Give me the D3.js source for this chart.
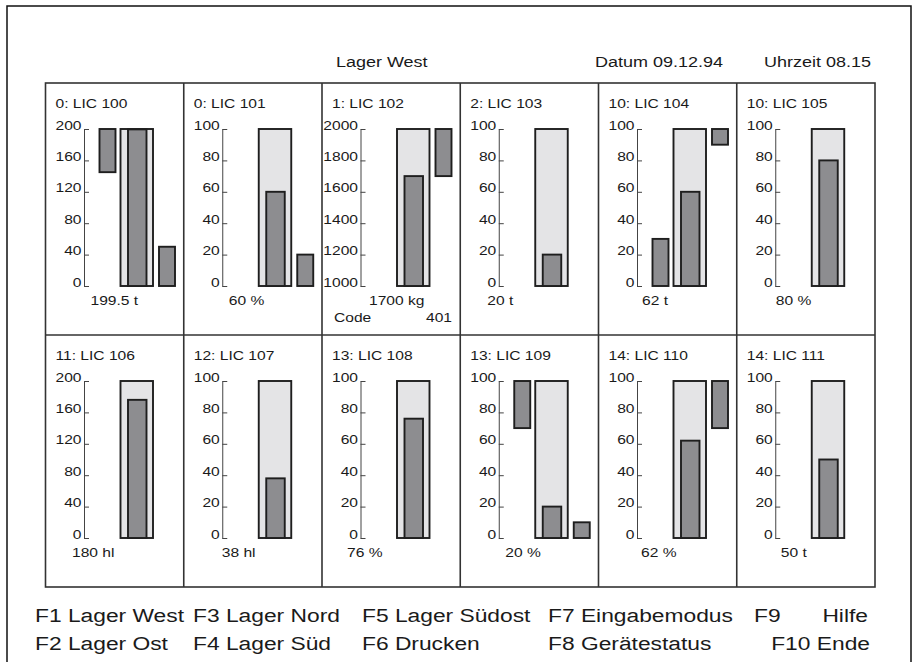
<!DOCTYPE html>
<html><head><meta charset="utf-8">
<script src="https://cdn.jsdelivr.net/npm/d3@7"></script>
<style>
html,body{margin:0;padding:0;background:#fff;}
text{font-family:"Liberation Sans",Arial,Helvetica,sans-serif;fill:#1a1a1a;}
</style></head><body>
<svg id="chart" width="920" height="662"></svg>
<script>
// ---------- data ----------
const headerTitle = "Lager West";
const headerDate = "Datum 09.12.94";
const headerTime = "Uhrzeit 08.15";
const panelTitles = ["0: LIC 100","0: LIC 101","1: LIC 102","2: LIC 103","10: LIC 104","10: LIC 105",
                     "11: LIC 106","12: LIC 107","13: LIC 108","13: LIC 109","14: LIC 110","14: LIC 111"];
const axisMin = [0,0,1000,0,0,0, 0,0,0,0,0,0];
const axisMax = [200,100,2000,100,100,100, 200,100,100,100,100,100];
const ticks200 = [0,40,80,120,160,200];
const ticks100 = [0,20,40,60,80,100];
const ticks2000 = [1000,1200,1400,1600,1800,2000];
const levels = [199.5,60,1700,20,60,80, 176,38,76,20,62,50];
const valueLabels = ["199.5 t","60 %","1700 kg","20 t","62 t","80 %","180 hl","38 hl","76 %","20 %","62 %","50 t"];
const lowBars  = [[145,200],null,null,null,[0,30],null, null,null,null,[70,100],null,null];
const highBars = [[0,50],[0,20],[1700,2000],null,[90,100],null, null,null,null,[0,10],[70,100],null];
const codeLabel = ["Code","401"];
const footerRow1 = ["F1 Lager West","F3 Lager Nord","F5 Lager Südost","F7 Eingabemodus","F9"];
const footerRow1Right = "Hilfe";
const footerRow2 = ["F2 Lager Ost","F4 Lager Süd","F6 Drucken","F8 Gerätestatus"];
const footerRow2Right = "F10 Ende";

// ---------- layout ----------
const SX = 1.2;                      // horizontal stretch of the printed font
const SXF = 1.2;                     // stretch for the footer line
const gridX0 = 45.5, gridY0 = 83, colW = 138.25, rowH = 252, nCols = 6, nRows = 2;
const labelOffsets = [45,45,47,27,43.5,39, 26.5,38,25,45,42.5,44];
const footerCols = [35,193,362,548,754];
const dark = "#1e1e1e", tankFill = "#e4e4e6", barFill = "#8d8d90";

const svg = d3.select("#chart");

function txt(g, x, y, s, size, anchor, sx) {
  return g.append("text")
    .attr("transform", `translate(${x},${y}) scale(${sx || SX},1)`)
    .attr("font-size", size)
    .attr("text-anchor", anchor || "start")
    .text(s);
}

// outer frame (open at bottom)
svg.append("path").attr("d", "M7,662V6H911V662")
  .attr("fill", "none").attr("stroke", "#111").attr("stroke-width", 1.5);

// header
txt(svg, 336, 67, headerTitle, 15);
txt(svg, 595, 67, headerDate, 15);
txt(svg, 871, 67, headerTime, 15, "end");

// grid
const colX = d3.scaleLinear().domain([0, nCols]).range([gridX0, gridX0 + nCols * colW]);
const rowY = d3.scaleLinear().domain([0, nRows]).range([gridY0, gridY0 + nRows * rowH]);
svg.append("rect").attr("x", colX(0)).attr("y", rowY(0))
  .attr("width", colX(nCols) - colX(0)).attr("height", rowY(nRows) - rowY(0))
  .attr("fill", "none").attr("stroke", "#333").attr("stroke-width", 1.6);
for (let c = 1; c < nCols; c++)
  svg.append("line").attr("x1", colX(c)).attr("x2", colX(c)).attr("y1", rowY(0)).attr("y2", rowY(nRows))
    .attr("stroke", "#333").attr("stroke-width", 1.6);
svg.append("line").attr("x1", colX(0)).attr("x2", colX(nCols)).attr("y1", rowY(1)).attr("y2", rowY(1))
  .attr("stroke", "#333").attr("stroke-width", 1.6);

// slot positions inside a panel
const slotX = d3.scaleOrdinal().domain(["low","tank","level","high"]).range([54,75,82.5,113.5]);
const slotW = d3.scaleOrdinal().domain(["low","tank","level","high"]).range([16,32.5,18.5,16]);

panelTitles.forEach((title, i) => {
  const c = i % nCols, r = Math.floor(i / nCols);
  const g = svg.append("g").attr("transform", `translate(${colX(c)},${rowY(r)})`);
  txt(g, 10, 25, title, 13);

  const y = d3.scaleLinear().domain([axisMin[i], axisMax[i]]).range([203, 46]);
  const tv = axisMax[i] === 200 ? ticks200 : axisMax[i] === 2000 ? ticks2000 : ticks100;
  const ax = g.append("g").attr("transform", "translate(38.5,0)")
    .call(d3.axisLeft(y).tickValues(tv).tickFormat(d3.format("d"))
      .tickSizeInner(-5).tickSizeOuter(0).tickPadding(3));
  ax.select(".domain").attr("stroke", "#444");
  ax.selectAll(".tick line").attr("stroke", "#444");
  ax.selectAll(".tick text")
    .attr("dy", 0).attr("x", -2.5 / SX)
    .attr("transform", `scale(${SX},1)`)
    .attr("font-size", 13).attr("font-family", "Liberation Sans, Arial, sans-serif")
    .attr("fill", "#1a1a1a");

  const bar = (slot, v0, v1, fill) => g.append("rect")
    .attr("x", slotX(slot)).attr("width", slotW(slot))
    .attr("y", y(v1)).attr("height", y(v0) - y(v1))
    .attr("fill", fill).attr("stroke", dark).attr("stroke-width", 1.9);

  if (lowBars[i]) bar("low", lowBars[i][0], lowBars[i][1], barFill);
  bar("tank", axisMin[i], axisMax[i], tankFill);
  bar("level", axisMin[i], levels[i], barFill);
  if (highBars[i]) bar("high", highBars[i][0], highBars[i][1], barFill);

  txt(g, labelOffsets[i], 222, valueLabels[i], 13);
  if (i === 2) {
    txt(g, 12, 239, codeLabel[0], 13);
    txt(g, 130, 239, codeLabel[1], 13, "end");
  }
});

// footer
footerRow1.forEach((s, k) => txt(svg, footerCols[k], 622, s, 19, "start", SXF));
txt(svg, 868, 622, footerRow1Right, 19, "end", SXF);
footerRow2.forEach((s, k) => txt(svg, footerCols[k], 650, s, 19, "start", SXF));
txt(svg, 870, 650, footerRow2Right, 19, "end", SXF);
</script>
</body></html>
